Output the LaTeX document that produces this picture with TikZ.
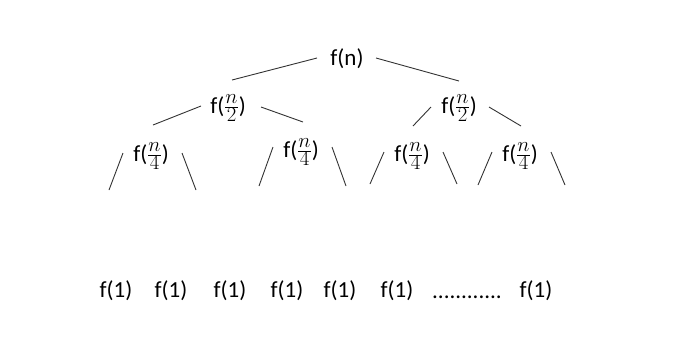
\documentclass[tikz,border=0pt]{standalone}
\usepackage{fontspec}
\setmainfont{Carlito}
\usepackage{tikz}
\newcommand{\fracpart}[1]{{\fontsize{28}{30}\selectfont$\frac{n}{#1}$}}
\tikzset{
  fn/.style={inner sep=0pt, font=\fontsize{23}{26}\selectfont},   % function call
  tl/.style={draw=black!80, line width=0.9pt},                     % tree line
}

\begin{document}
\begin{tikzpicture}[x=1pt, y=-1pt]
  \useasboundingbox (0,0) rectangle (696,360);
  \node[fn] (root) at (347,59)  {f(n)};
  \node[fn] (L)    at (228,108) {f(\fracpart{2})};
  \node[fn] (R)    at (459,108) {f(\fracpart{2})};
  \node[fn] (LL)   at (151,156) {f(\fracpart{4})};
  \node[fn] (LR)   at (301,152) {f(\fracpart{4})};
  \node[fn] (RL)   at (412,156) {f(\fracpart{4})};
  \node[fn] (RR)   at (520,156) {f(\fracpart{4})};
  % upper levels
  \draw[tl] ([shift={(-30,-1)}]root.center) -- ([shift={(4,-28)}]L.center);
  \draw[tl] ([shift={(29,-1)}]root.center)  -- ([shift={(0,-27)}]R.center);
  \draw[tl] ([shift={(-27,-2)}]L.center)    -- ([shift={(2,-31)}]LL.center);
  \draw[tl] ([shift={(33,-1)}]L.center)     -- ([shift={(2,-30)}]LR.center);
  \draw[tl] ([shift={(-28,-1)}]R.center)    -- ([shift={(1,-30)}]RL.center);
  \draw[tl] ([shift={(30,-1)}]R.center)     -- ([shift={(1,-30)}]RR.center);
  % open legs
  \foreach \n/\dy/\ly in {LL/-3/37,LR/-5/39,RL/-4/32,RR/-4/33} {
    \draw[tl] ([shift={(-28,\dy)}]\n.center) -- ++(-14,\ly);
    \draw[tl] ([shift={(31,\dy)}]\n.center)  -- ++(14,\ly);
  }
  % leaves
  \foreach \x [count=\i] in {116,171,230,287,340,397,536} {
    \node[fn] (leaf\i) at (\x,291) {f(1)};
  }
  \node[fn, anchor=base] (dots) at (467,298) {............};
\end{tikzpicture}
\end{document}
